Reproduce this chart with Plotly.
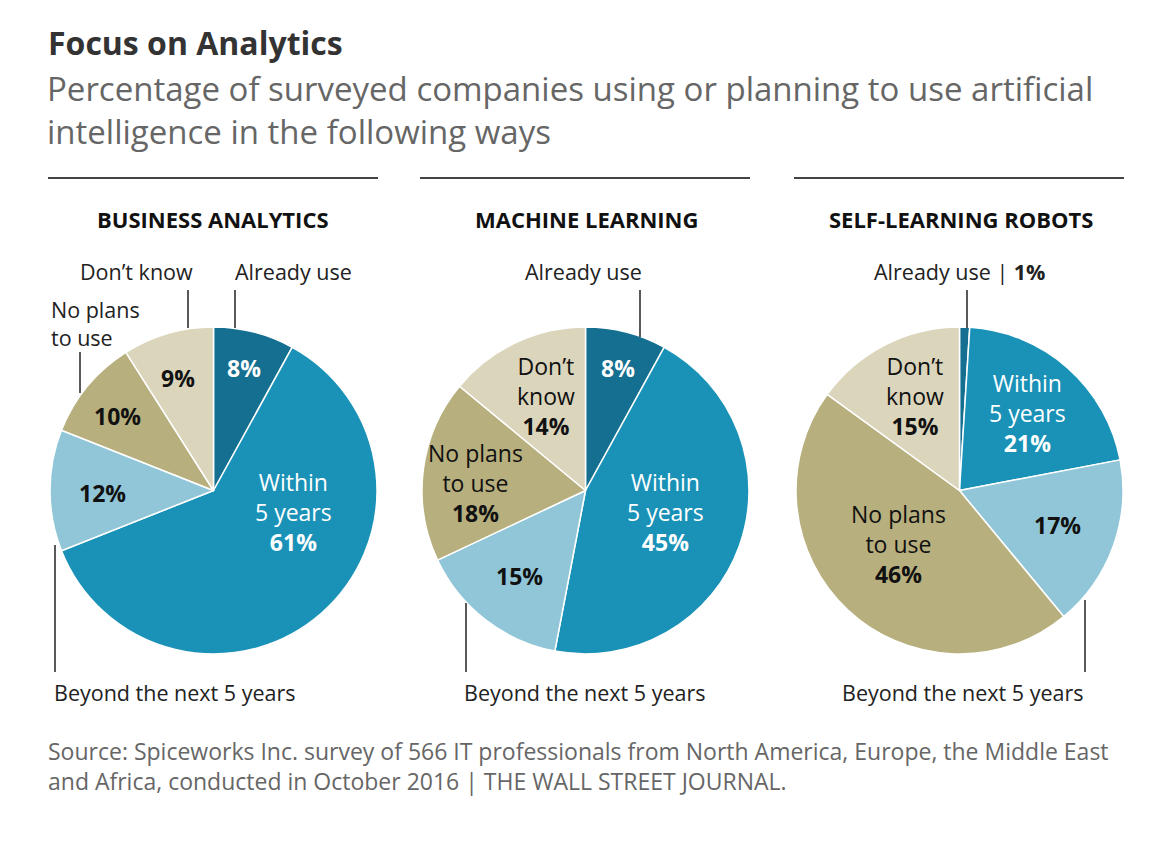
import plotly.graph_objects as go

W, H = 1174, 842
OFF = 8  # browser body margin

# ---------------- data ----------------
categories = ["Already use", "Within 5 years", "Beyond the next 5 years", "No plans to use", "Don’t know"]
business_analytics = [8, 61, 12, 10, 9]
machine_learning = [8, 45, 15, 18, 14]
self_learning_robots = [1, 21, 17, 46, 15]
chart_titles = ["BUSINESS ANALYTICS", "MACHINE LEARNING", "SELF-LEARNING ROBOTS"]
series = [business_analytics, machine_learning, self_learning_robots]

title = "Focus on Analytics"
subtitle = "Percentage of surveyed companies using or planning to use artificial<br>intelligence in the following ways"
source = ("Source: Spiceworks Inc. survey of 566 IT professionals from North America, Europe, the Middle East<br>"
          "and Africa, conducted in October 2016 | THE WALL STREET JOURNAL.")

# ---------------- style ----------------
slice_colors = ["#156f90", "#1a92b8", "#90c6d8", "#b7af7d", "#dbd5bc"]
FONT = "Open Sans"
OUT = 21.5   # outside label size
INS = 23     # inside label size

def px(x):
    return (x - OFF) / W

def py(y):
    return 1 - (y - OFF) / H

# pie bounding boxes (pixels): left, right, top, bottom
pie_boxes = [(50, 377, 327, 654), (422, 749, 327, 654), (796, 1123, 327, 654)]
title_centers = [213, 586, 961]

fig = go.Figure()
for vals, box in zip(series, pie_boxes):
    l, r, t, b = box
    fig.add_trace(go.Pie(
        labels=categories, values=vals, sort=False, direction="clockwise", rotation=0,
        marker=dict(colors=slice_colors, line=dict(color="white", width=1.5)),
        textinfo="none", hoverinfo="label+percent", showlegend=False,
        domain=dict(x=[px(l), px(r)], y=[py(b), py(t)]),
    ))

ann = []
shapes = []

def text(x, y, s, size=OUT, color="#222", xanchor="center"):
    ann.append(dict(x=px(x), y=py(y), xref="paper", yref="paper", text=s, showarrow=False,
                    xanchor=xanchor, yanchor="middle", align="left" if xanchor == "left" else "center",
                    font=dict(family=FONT, size=size, color=color)))

def vline(x, y0, y1):
    shapes.append(dict(type="line", xref="paper", yref="paper", x0=px(x), x1=px(x), y0=py(y0), y1=py(y1),
                       line=dict(color="#222", width=1.5)))

def pct(v):
    return f"<b>{v}%</b>"

def inside(x, y, name, v, color):
    # y is the centre of the whole block
    s = (name + "<br>" + pct(v)) if name else pct(v)
    text(x, y, s, size=INS, color=color)

# headings
text(46, 42, "<b>" + title + "</b>", size=32, color="#333", xanchor="left")
text(45, 110, subtitle, size=33, color="#666", xanchor="left")
text(46, 766, source, size=23, color="#666", xanchor="left")

# rules and chart titles
for (l, r, t, b), cx, ct in zip(pie_boxes, title_centers, chart_titles):
    shapes.append(dict(type="line", xref="paper", yref="paper", x0=px(l - 2), x1=px(r + 1), y0=py(178), y1=py(178),
                       line=dict(color="#444", width=2)))
    text(cx, 219, "<b>" + ct + "</b>", size=22, color="#111")

W_ = "white"
K_ = "#111"

# ---- Business analytics
ba = business_analytics
text(293, 272, categories[0])
text(136, 272, categories[4])
text(49, 323, "No plans<br>to use", xanchor="left")
text(52, 692, categories[2], xanchor="left")
vline(235, 290, 328)
vline(188, 290, 328)
vline(80, 352, 393)
vline(55, 545, 672)
inside(244, 368, "", ba[0], W_)
inside(178, 378, "", ba[4], K_)
inside(117, 416, "", ba[3], K_)
inside(102, 493, "", ba[2], K_)
inside(293, 512, "Within<br>5 years", ba[1], W_)

# ---- Machine learning
ml = machine_learning
text(583, 272, categories[0])
vline(640, 290, 337)
text(585, 692, categories[2])
vline(466, 603, 672)
inside(618, 368, "", ml[0], W_)
inside(546, 396, "Don’t<br>know", ml[4], K_)
inside(475, 483, "No plans<br>to use", ml[3], K_)
inside(519, 576, "", ml[2], K_)
inside(665, 512, "Within<br>5 years", ml[1], W_)

# ---- Self-learning robots
sr = self_learning_robots
text(960, 272, categories[0] + " | " + pct(sr[0]))
vline(967, 290, 328)
text(963, 692, categories[2])
vline(1085, 600, 672)
inside(915, 396, "Don’t<br>know", sr[4], K_)
inside(1027, 413, "Within<br>5 years", sr[1], W_)
inside(1057, 525, "", sr[2], K_)
inside(898, 544, "No plans<br>to use", sr[3], K_)

fig.update_layout(
    width=W, height=H, autosize=False,
    margin=dict(l=0, r=0, t=0, b=0),
    paper_bgcolor="white", plot_bgcolor="white",
    annotations=ann, shapes=shapes,
    font=dict(family=FONT),
)

fig.write_html("out.html")
